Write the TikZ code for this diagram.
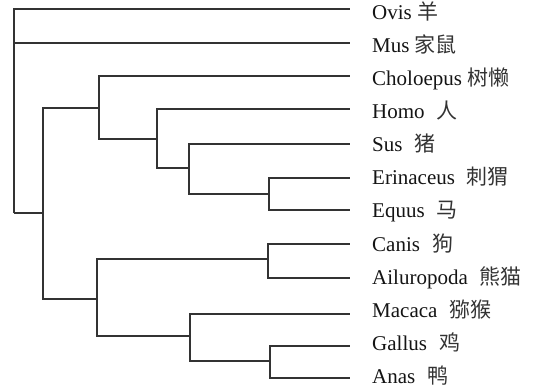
\documentclass[tikz,border=0pt]{standalone}
\usepackage{fontspec}
\setmainfont{Liberation Serif}
\newfontfamily\cjk{Noto Sans CJK SC}
% gap between the Latin and the Chinese name
\newcommand{\wgap}{\hspace{12pt}}
\newcommand{\zh}[1]{{\cjk\color{black!80}#1}}
\begin{document}
\begin{tikzpicture}[x=1pt,y=-1pt,
  branch/.style={draw=black!80, line width=1.1pt, line join=miter},
  taxon/.style={anchor=base west, inner sep=0pt, font=\fontsize{21}{24}\selectfont, text=black!92}]
\useasboundingbox (0,0) rectangle (537,387);

% leaf tips
\foreach \n/\y in {Ovis/9, Mus/43, Chol/76, Homo/109, Sus/144, Erin/178,
                   Equus/210, Canis/244, Ailu/278, Mac/314, Gal/346, Anas/378}
  \coordinate (t\n) at (350,\y);

% taxon labels
\node[taxon] (lOvis)  at (372, 20) {Ovis \zh{羊}};
\node[taxon] (lMus)   at (372, 53) {Mus \zh{家鼠}};
\node[taxon] (lChol)  at (372, 86) {Choloepus \zh{树懒}};
\node[taxon] (lHomo)  at (372,119) {Homo\wgap\zh{人}};
\node[taxon] (lSus)   at (372,152) {Sus\wgap\zh{猪}};
\node[taxon] (lErin)  at (372,185) {Erinaceus\wgap\zh{刺猬}};
\node[taxon] (lEquus) at (372,218) {Equus\wgap\zh{马}};
\node[taxon] (lCanis) at (372,251) {Canis\wgap\zh{狗}};
\node[taxon] (lAilu)  at (372,284.5) {Ailuropoda\wgap\zh{熊猫}};
\node[taxon] (lMac)   at (372,317) {Macaca\wgap\zh{猕猴}};
\node[taxon] (lGal)   at (372,350) {Gallus\wgap\zh{鸡}};
\node[taxon] (lAnas)  at (372,383) {Anas\wgap\zh{鸭}};

% internal nodes
\coordinate (root) at (14,213);
\coordinate (A) at (43,213);
\coordinate (B) at (99,108);
\coordinate (C) at (157,139);
\coordinate (D) at (189,168);
\coordinate (E) at (269,194);
\coordinate (F) at (97,299);
\coordinate (G) at (268,259);
\coordinate (H) at (190,336);
\coordinate (I) at (270,361);

% branches
\draw[branch] (root) |- (tOvis);
\draw[branch] (root) |- (tMus);
\draw[branch] (root) -- (A);
\draw[branch] (A) |- (B);
\draw[branch] (A) |- (F);
\draw[branch] (B) |- (tChol);
\draw[branch] (B) |- (C);
\draw[branch] (C) |- (tHomo);
\draw[branch] (C) |- (D);
\draw[branch] (D) |- (tSus);
\draw[branch] (D) |- (E);
\draw[branch] (E) |- (tErin);
\draw[branch] (E) |- (tEquus);
\draw[branch] (F) |- (G);
\draw[branch] (F) |- (H);
\draw[branch] (G) |- (tCanis);
\draw[branch] (G) |- (tAilu);
\draw[branch] (H) |- (tMac);
\draw[branch] (H) |- (I);
\draw[branch] (I) |- (tGal);
\draw[branch] (I) |- (tAnas);
\end{tikzpicture}
\end{document}
